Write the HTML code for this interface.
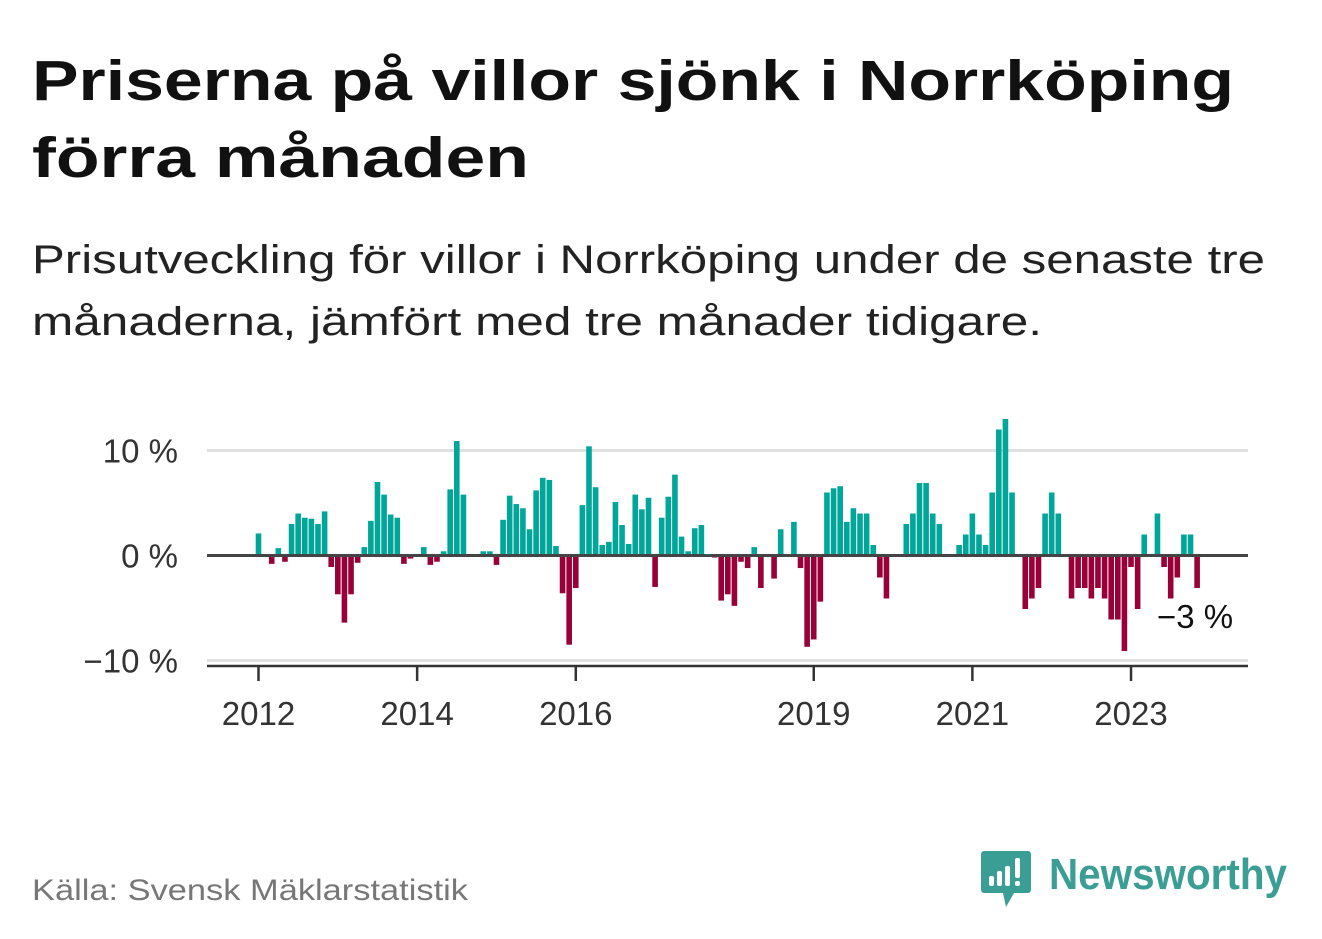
<!DOCTYPE html>
<html><head><meta charset="utf-8"><style>
html,body{margin:0;padding:0;background:#fff;width:1322px;height:939px;overflow:hidden}
svg{display:block;font-family:"Liberation Sans",sans-serif}
</style></head><body>
<svg id="chart" width="1322" height="939" viewBox="0 0 1322 939">
<text x="32" y="100" font-size="57" font-weight="bold" fill="#111" textLength="1202" lengthAdjust="spacingAndGlyphs">Priserna på villor sjönk i Norrköping</text>
<text x="32" y="177" font-size="57" font-weight="bold" fill="#111" textLength="497" lengthAdjust="spacingAndGlyphs">förra månaden</text>
<text x="32" y="273" font-size="40" fill="#222" textLength="1233" lengthAdjust="spacingAndGlyphs">Prisutveckling för villor i Norrköping under de senaste tre</text>
<text x="32" y="335" font-size="40" fill="#222" textLength="1010" lengthAdjust="spacingAndGlyphs">månaderna, jämfört med tre månader tidigare.</text>
<g id="plot"></g>
<text x="32" y="900" font-size="30" fill="#777" textLength="436" lengthAdjust="spacingAndGlyphs">Källa: Svensk Mäklarstatistik</text>
<g>
<path d="M984 851 h44 a3 3 0 0 1 3 3 v36 a3 3 0 0 1 -3 3 h-14 l-8 14 l-3 -14 h-19 a3 3 0 0 1 -3 -3 v-36 a3 3 0 0 1 3 -3z" fill="#3a9e94"/>
<rect x="989" y="876" width="5" height="10" rx="2" fill="#fff"/>
<rect x="997" y="871" width="5" height="15" rx="2" fill="#fff"/>
<rect x="1005" y="866" width="5" height="20" rx="2" fill="#fff"/>
<rect x="1015" y="858" width="5" height="20" rx="2" fill="#fff"/>
<rect x="1015" y="881" width="5" height="5" rx="2" fill="#fff"/>
<text x="1049" y="889" font-size="44" font-weight="bold" fill="#3a9e94" textLength="238" lengthAdjust="spacingAndGlyphs">Newsworthy</text>
</g>
</svg>
<script>
const yearLabels = ["2012","2014","2016","2019","2021","2023"];
const yearMonthIdx = [0,24,48,84,108,132];
const yTicks = [10,0,-10];
const yTickLabels = ["10 %","0 %","\u221210 %"];
const values = [
2.1,0,-0.7,0.7,-0.5,3.0,4.0,3.6,3.5,3.0,4.2,-1.0,
-3.6,-6.3,-3.6,-0.6,0.8,3.3,7.0,5.8,3.9,3.6,-0.7,-0.2,
0,0.8,-0.8,-0.5,0.4,6.3,10.9,5.8,0,0,0.4,0.4,
-0.8,3.4,5.7,4.9,4.5,2.5,6.2,7.4,7.2,0.9,-3.5,-8.4,
-3.0,4.8,10.4,6.5,1.0,1.3,5.1,2.9,1.1,5.8,4.4,5.5,
-2.9,3.6,5.6,7.7,1.8,0.4,2.6,2.9,0.1,-0.1,-4.2,-3.6,
-4.7,-0.5,-1.1,0.8,-3.0,0,-2.1,2.5,0,3.2,-1.1,-8.6,
-7.9,-4.3,6.0,6.4,6.6,3.2,4.5,4.0,4.0,1.0,-2.0,-4.0,
0,0,3.0,4.0,6.9,6.9,4.0,3.0,0,0,1.0,2.0,
4.0,2.0,1.0,6.0,12.0,13.0,6.0,0,-5.0,-4.0,-3.0,4.0,
6.0,4.0,0,-4.0,-3.0,-3.0,-4.0,-3.0,-4.0,-6.0,-6.0,-9.0,
-1.0,-5.0,2.0,0,4.0,-1.0,-4.0,-2.0,2.0,2.0,-3.0];
const lastLabel = "\u22123 %";

const NS="http://www.w3.org/2000/svg";
const g=document.getElementById('plot');
const xScale=i=>258.5+i*6.61;
const yScale=v=>555.5-v*10.5;
function mk(tag,attrs){const e=document.createElementNS(NS,tag);for(const k in attrs)e.setAttribute(k,attrs[k]);g.appendChild(e);return e;}
// gridlines
yTicks.forEach((t,k)=>{
  const ln=mk('line',{x1:207,x2:1248,y1:yScale(t),y2:yScale(t),stroke:t===0?'#444':'#e0e0e0','stroke-width':t===0?3:3});
  
  
  const tx=mk('text',{x:178,y:yScale(t)+12,'font-size':33,fill:'#333','text-anchor':'end'});
  tx.textContent=yTickLabels[k];
  
  
});
// bars
values.forEach((v,i)=>{
  if(v===0)return;
  const y0=v>0?yScale(v):yScale(0)+1.5;
  const h=Math.abs(yScale(v)-yScale(0))-(v>0?1.5:0)+(v<0?-0.5:0);
  const r=mk('rect',{x:xScale(i)-2.8,y:y0,width:5.6,height:Math.max(h,0.5),fill:v>0?'#00a699':'#990038'});
  
  
});
// x axis
const ax=mk('line',{x1:207,x2:1248,y1:666,y2:666,stroke:'#333','stroke-width':2.5});


yearLabels.forEach((lab,k)=>{
  const x=xScale(yearMonthIdx[k]);
  const tk=mk('line',{x1:x,x2:x,y1:666,y2:681,stroke:'#333','stroke-width':2.5});
  
  
  const tx=mk('text',{x:x,y:725,'font-size':33,fill:'#333','text-anchor':'middle'});
  tx.textContent=lab;
  
  
});
const ll=mk('text',{x:1157,y:628,'font-size':33,fill:'#111'});
ll.textContent=lastLabel;


</script>
</body></html>
